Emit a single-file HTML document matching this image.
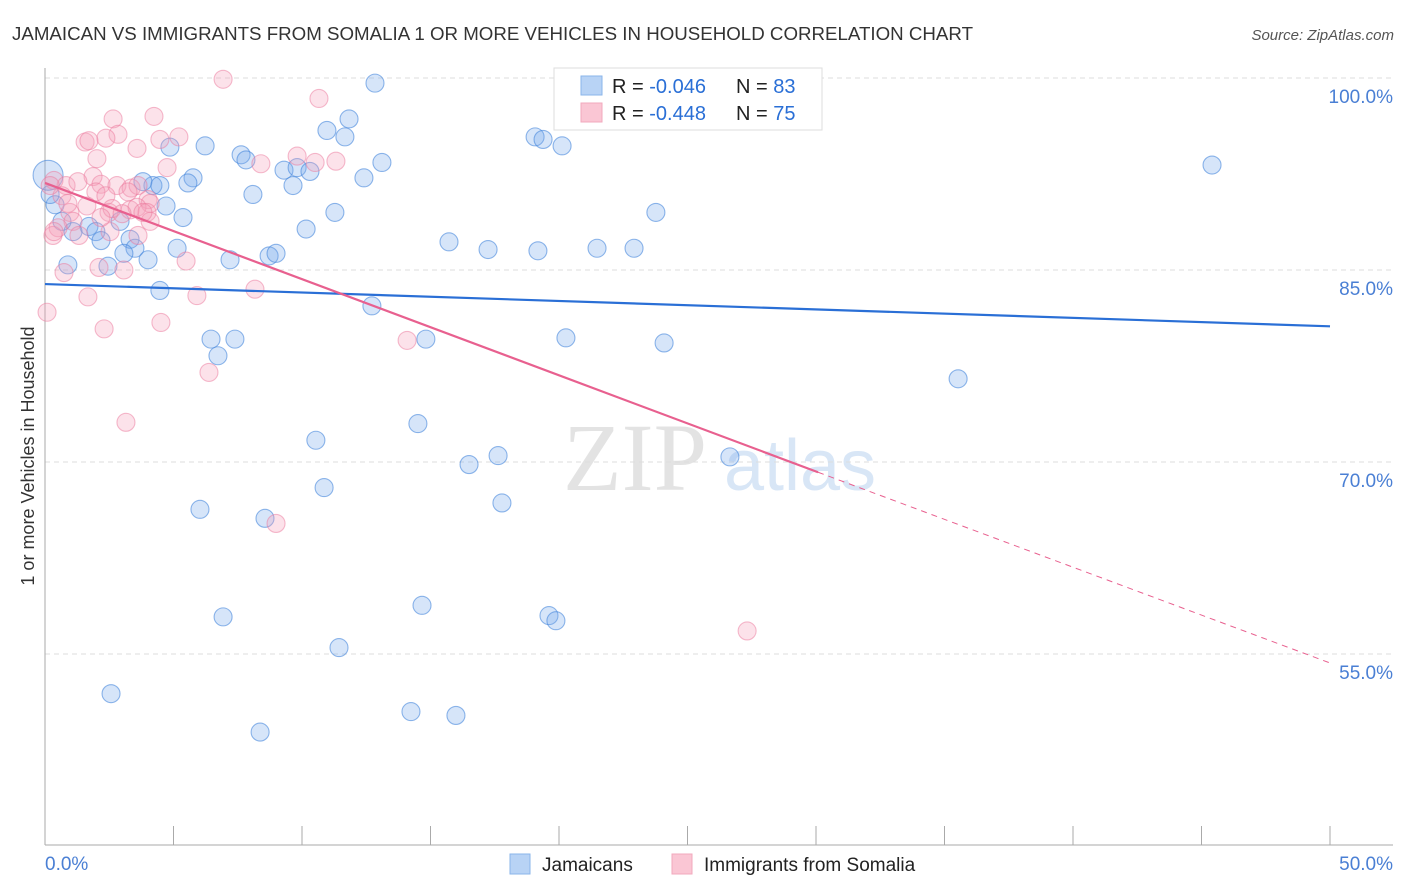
<!DOCTYPE html>
<html><head><meta charset="utf-8"><style>
body{margin:0;background:#fff;font-family:"Liberation Sans",sans-serif;}
svg{display:block}
</style></head><body>
<svg id="chart" width="1406" height="892" xmlns="http://www.w3.org/2000/svg">
<text x="12" y="40" font-size="18" fill="#333" textLength="961" lengthAdjust="spacingAndGlyphs">JAMAICAN VS IMMIGRANTS FROM SOMALIA 1 OR MORE VEHICLES IN HOUSEHOLD CORRELATION CHART</text>
<text x="1394" y="40" font-size="15" fill="#555" font-style="italic" text-anchor="end">Source: ZipAtlas.com</text>
<text transform="translate(34,456) rotate(-90)" font-size="18" fill="#333" text-anchor="middle">1 or more Vehicles in Household</text>
<g>
<text x="635" y="490" font-size="96" fill="#ddd" font-family="Liberation Serif" text-anchor="middle" opacity="0.8">ZIP</text>
<text x="800" y="490" font-size="72" fill="#cfe0f5" text-anchor="middle" opacity="0.8">atlas</text>
</g>
<g id="grid"></g><g id="axes"></g><g id="points"></g><g id="lines"></g>
<g>
<rect x="554" y="68" width="268" height="62" fill="#fff" stroke="#ddd"/>
<rect x="581" y="76" width="21" height="19" fill="#b8d3f5" stroke="#8ab4ea"/>
<rect x="581" y="103" width="21" height="19" fill="#fac6d4" stroke="#f2a8bd"/>
<text x="612" y="93" font-size="20" fill="#222">R = <tspan fill="#2a6fd6">-0.046</tspan><tspan x="736">N = </tspan><tspan fill="#2a6fd6">83</tspan></text>
<text x="612" y="120" font-size="20" fill="#222">R = <tspan fill="#2a6fd6">-0.448</tspan><tspan x="736">N = </tspan><tspan fill="#2a6fd6">75</tspan></text>
</g>
<g>
<rect x="510" y="854" width="20" height="20" fill="#b8d3f5" stroke="#8ab4ea"/>
<text x="542" y="871" font-size="19" fill="#222">Jamaicans</text>
<rect x="672" y="854" width="20" height="20" fill="#fac6d4" stroke="#f2a8bd"/>
<text x="704" y="871" font-size="19" fill="#222">Immigrants from Somalia</text>
</g>
</svg>
<script>
const yTicks=[55,70,85,100];
const yTickLabels=["55.0%","70.0%","85.0%","100.0%"];
const xTicks=[0,5,10,15,20,25,30,35,40,45,50];
const blueX=[12.84,27.43,29.69,11.83,10.97,11.67,19.07,19.38,20.12,6.23,4.86,7.63,7.82,13.11,45.41,9.3,9.81,10.31,12.41,5.76,5.56,9.65,4.2,3.81,8.09,0.39,4.71,11.28,23.77,5.37,2.92,1.71,10.16,1.09,1.98,2.18,15.72,17.24,19.18,21.48,22.92,5.14,3.31,3.5,3.07,4.01,7.2,8.72,8.99,0.89,2.45,4.47,12.72,6.46,7.39,14.82,20.27,24.09,6.73,35.53,14.51,10.54,16.5,17.63,26.65,10.86,6.03,17.78,8.56,6.93,14.67,19.61,19.88,11.44,2.57,14.24,15.99,8.37,0.2,0.66,4.47];
const blueY=[99.6,99.8,99.8,96.8,95.9,95.4,95.4,95.2,94.7,94.7,94.6,94.0,93.6,93.4,93.2,92.8,93.0,92.7,92.2,92.2,91.8,91.6,91.6,91.9,90.9,90.1,90.0,89.5,89.5,89.1,88.8,88.4,88.2,88.0,88.0,87.3,87.2,86.6,86.5,86.7,86.7,86.7,87.4,86.7,86.3,85.8,85.8,86.1,86.3,85.4,85.3,83.4,82.2,79.6,79.6,79.6,79.7,79.3,78.3,76.5,73.0,71.7,69.8,70.5,70.4,68.0,66.3,66.8,65.6,57.9,58.8,58.0,57.6,55.5,51.9,50.5,50.2,48.9,90.9,88.8,91.6];
const pinkX=[6.93,10.66,4.24,2.65,2.84,2.37,1.56,1.71,4.47,5.21,3.58,2.02,4.75,8.4,9.81,10.51,11.32,0.35,0.82,1.87,2.18,2.8,3.35,3.62,1.28,1.98,2.37,3.23,4.01,4.09,1.63,0.97,2.49,2.61,3.31,3.58,3.97,0.66,1.09,0.51,0.31,1.32,4.09,3.62,5.49,2.1,3.07,0.74,1.67,5.91,8.17,0.08,2.3,4.51,14.09,6.38,3.15,8.99,27.32,0.35,2.53,3.0,0.89,3.81,2.18,0.2];
const pinkY=[99.9,98.4,97.0,96.8,95.6,95.3,95.0,95.1,95.2,95.4,94.5,93.7,93.0,93.3,93.9,93.4,93.5,92.0,91.6,92.3,91.7,91.6,91.4,91.6,91.9,91.1,90.8,91.1,90.5,90.2,90.0,89.5,89.5,89.8,89.7,89.9,89.5,90.8,88.8,88.3,87.7,87.7,88.8,87.7,85.7,85.2,85.0,84.8,82.9,83.0,83.5,81.7,80.4,80.9,79.5,77.0,73.1,65.2,56.8,88.0,88.0,89.4,90.2,89.5,89.1,91.6];
const bigBlue=[[0.12,92.4]];
const blueTrend=[[0,83.9],[50,80.6]];
const pinkTrend=[[0,91.8],[30.08,69.2],[50,54.3]];
const NS='http://www.w3.org/2000/svg';
const xs=v=>45+v*25.7, ys=v=>78+(100-v)*12.8;
function mk(tag,attrs,parent){const e=document.createElementNS(NS,tag);for(const k in attrs)e.setAttribute(k,attrs[k]);document.getElementById(parent).appendChild(e);return e;}
yTicks.forEach((t,i)=>{
 const g=mk('line',{x1:45,x2:1393,y1:ys(t),y2:ys(t),stroke:'#ddd','stroke-dasharray':'5,4'},'grid');
 
 
 const l=mk('text',{x:1393,y:ys(t)+25,'font-size':19,fill:'#4a7fd4','text-anchor':'end'},'axes');
 l.textContent=yTickLabels[i];
 
 
});
const ax1=mk('line',{x1:45,x2:45,y1:68,y2:845,stroke:'#aaa'},'axes');


const ax2=mk('line',{x1:45,x2:1393,y1:845,y2:845,stroke:'#aaa'},'axes');


xTicks.forEach(t=>{const e=mk('line',{x1:xs(t),x2:xs(t),y1:826,y2:845,stroke:'#aaa'},'axes');
 
 });
const xl0=mk('text',{x:45,y:870,'font-size':19,fill:'#4a7fd4'},'axes');xl0.textContent='0.0%';


const xl1=mk('text',{x:1393,y:870,'font-size':19,fill:'#4a7fd4','text-anchor':'end'},'axes');xl1.textContent='50.0%';


function dot(x,y,r,fill,stroke,name){const c=mk('circle',{cx:xs(x),cy:ys(y),r:r,fill:fill,stroke:stroke,'stroke-width':1.1},'points');
 
 }
blueX.forEach((x,i)=>dot(x,blueY[i],9,'rgba(120,170,235,0.3)','rgba(70,135,220,0.6)','jamaican-point'));
bigBlue.forEach(p=>dot(p[0],p[1],15,'rgba(120,170,235,0.3)','rgba(70,135,220,0.6)','jamaican-point'));
pinkX.forEach((x,i)=>dot(x,pinkY[i],9,'rgba(245,160,185,0.3)','rgba(235,120,155,0.5)','somalia-point'));
const bt=mk('line',{x1:xs(blueTrend[0][0]),y1:ys(blueTrend[0][1]),x2:xs(blueTrend[1][0]),y2:ys(blueTrend[1][1]),stroke:'#2a6fd6','stroke-width':2.2},'lines');


const pt=mk('line',{x1:xs(pinkTrend[0][0]),y1:ys(pinkTrend[0][1]),x2:xs(pinkTrend[1][0]),y2:ys(pinkTrend[1][1]),stroke:'#e8608f','stroke-width':2.2},'lines');


const pd=mk('line',{x1:xs(pinkTrend[1][0]),y1:ys(pinkTrend[1][1]),x2:xs(pinkTrend[2][0]),y2:ys(pinkTrend[2][1]),stroke:'#e8608f','stroke-width':1,'stroke-dasharray':'6,5'},'lines');


</script>
</body></html>
